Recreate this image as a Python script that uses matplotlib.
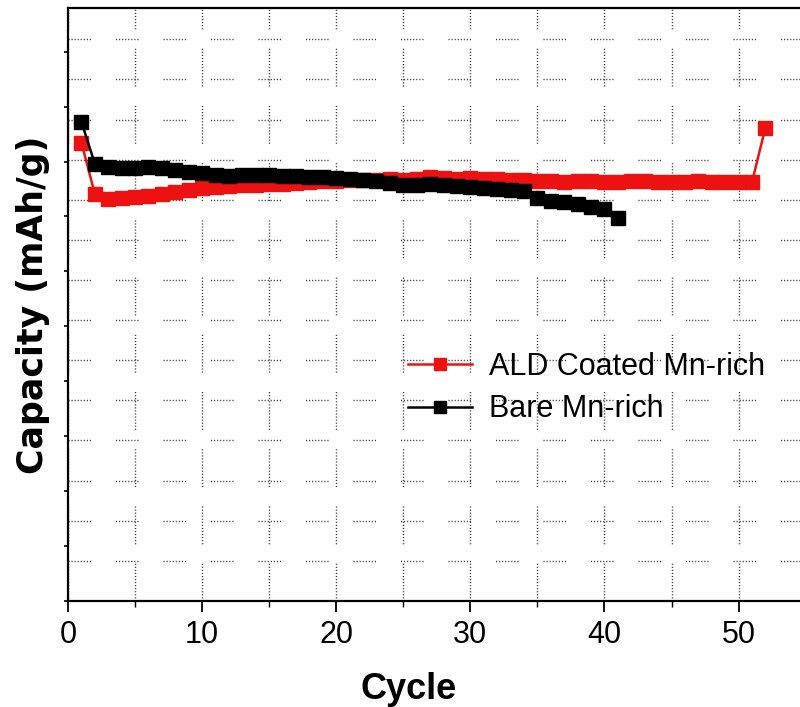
# 导入matplotlib
import matplotlib as mpl
import matplotlib.pyplot as plt
from matplotlib.ticker import MultipleLocator, NullFormatter

# 设置字体
mpl.rcParams['font.family'] = ['Liberation Sans', 'DejaVu Sans']

# 数据
cycle_ald = list(range(1, 53))
cap_ald = [208.6, 185.3, 183.1, 183.6, 184.0, 184.5, 185.3, 186.3, 187.2, 188.1,
           188.5, 189.0, 189.4, 189.4, 189.9, 189.9, 190.3, 190.8, 191.0, 191.3,
           191.5, 191.7, 191.7, 192.0, 191.7, 192.0, 192.8, 192.4, 192.2, 192.6,
           192.2, 191.9, 191.7, 191.5, 191.0, 191.0, 190.8, 191.0, 191.0, 190.8,
           190.8, 191.0, 191.0, 190.8, 190.8, 190.8, 191.0, 190.8, 190.8, 190.6,
           190.6, 215.4]
cycle_bare = list(range(1, 42))
cap_bare = [218.1, 199.0, 197.6, 197.2, 197.2, 197.6, 197.2, 196.3, 195.4, 194.9,
            194.0, 193.5, 194.0, 194.0, 194.0, 193.5, 193.5, 193.1, 193.1, 192.6,
            192.2, 191.7, 191.3, 190.3, 189.4, 189.4, 189.9, 189.4, 189.0, 188.5,
            188.1, 187.6, 187.2, 186.7, 183.6, 182.2, 181.7, 180.8, 179.4, 178.5,
            174.5]
labels = ['ALD Coated Mn-rich', 'Bare Mn-rich']
colors = ['#ee1111', '#000000']

fig = plt.figure(figsize=(8, 7.07), dpi=100)
ax = fig.add_axes([0.085, 0.15, 0.917, 0.839])

# 虚点网格
ax.set_axisbelow(True)
h_dash = (0, (0.8, 1.4) * 7 + (0.8, 18))
v_dash = (0, (0.8, 1.4) * 12 + (0.8, 14))

ax.plot(cycle_ald, cap_ald, color=colors[0], lw=1.8, marker='s', ms=10,
        mec=colors[0], label=labels[0], zorder=3)
ax.plot(cycle_bare, cap_bare, color=colors[1], lw=1.8, marker='s', ms=10,
        mec=colors[1], label=labels[1], zorder=4)

ax.set_xlim(0, 54.7)
ax.set_ylim(0, 270)

ax.xaxis.set_major_locator(MultipleLocator(10))
ax.xaxis.set_minor_locator(MultipleLocator(5))
ax.yaxis.set_major_locator(MultipleLocator(25))
ax.yaxis.set_minor_locator(MultipleLocator(18.26))
ax.yaxis.set_major_formatter(NullFormatter())

ax.grid(axis='x', which='both', color='#333333', lw=1.0, linestyle=v_dash)
ax.grid(axis='y', which='minor', color='#333333', lw=1.0, linestyle=h_dash)

ax.tick_params(axis='x', which='major', direction='out', length=8, width=1.3,
               labelsize=22, pad=6)
ax.tick_params(axis='x', which='minor', direction='out', length=4, width=1.0)
ax.tick_params(axis='y', which='major', direction='out', length=3, width=1.2)
ax.tick_params(axis='y', which='minor', length=0)

for s in ax.spines.values():
    s.set_linewidth(1.6)

ax.set_xlabel('Cycle', fontsize=26, fontweight='bold')
ax.xaxis.set_label_coords(0.464, -0.12)
ax.set_ylabel('Capacity (mAh/g)', fontsize=25, fontweight='bold',
              family='DejaVu Sans')
ax.yaxis.set_label_coords(-0.025, 0.5)

ax.legend(loc='upper left', bbox_to_anchor=(408 / 800, 1 - 352 / 707),
          bbox_transform=fig.transFigure, frameon=False, fontsize=22,
          handlelength=2.1, handletextpad=0.55, labelspacing=0.4,
          borderpad=0, borderaxespad=0, markerscale=0.85)

fig.savefig('out.png', dpi=100)
